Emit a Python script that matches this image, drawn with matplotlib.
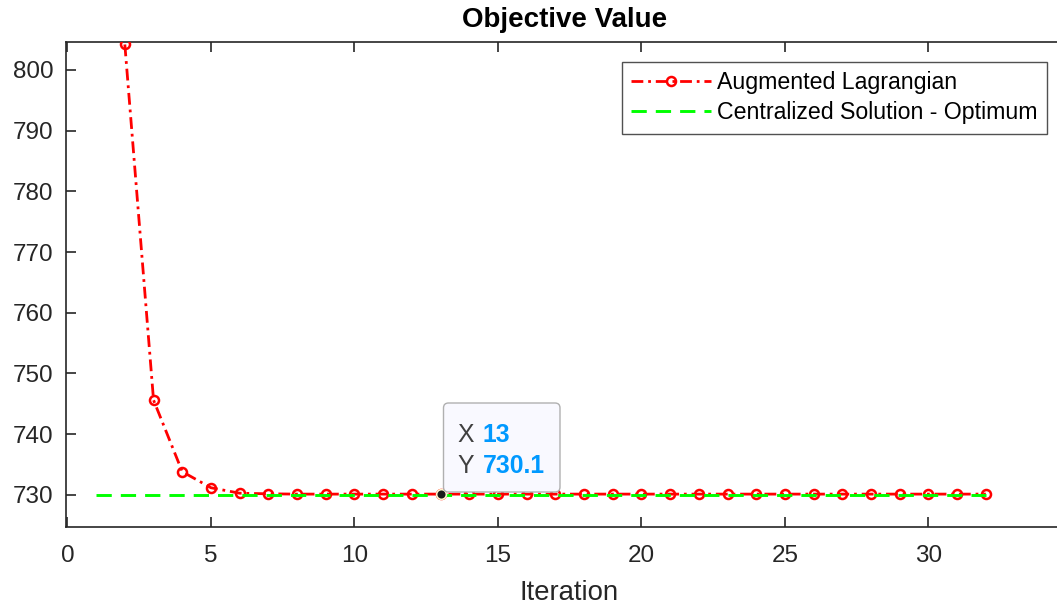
import matplotlib
matplotlib.use("Agg")
import matplotlib.pyplot as plt
from matplotlib.patches import FancyBboxPatch

# ---- data ----
iterations = list(range(2, 33))
objective = [804.2, 745.6, 733.8, 731.15, 730.25, 730.15] + [730.1] * 25
opt_x = [1, 32]
opt_y = [730.0, 730.0]
tip_x, tip_y = 13, 730.1
xticks = [0, 5, 10, 15, 20, 25, 30]
yticks = [730, 740, 750, 760, 770, 780, 790, 800]

plt.rcParams['font.family'] = ['Liberation Sans', 'DejaVu Sans']
plt.rcParams['lines.scale_dashes'] = False
dark = '#262626'

W, H = 1057, 606
fig = plt.figure(figsize=(W / 100, H / 100), dpi=100)
left = 66 / W
bottom = 1 - 527 / H
height = (527 - 41.7) / H
width = 35.05 * 28.7 / W
ax = fig.add_axes([left, bottom, width, height])

ax.plot(iterations, objective, color='#ff0000', lw=2.0, dashes=(8.5, 3.5, 2, 3.5),
        marker='o', ms=6.5, mfc='none', mec='#ff0000', mew=1.8,
        label='Augmented Lagrangian', zorder=3)
ax.plot(opt_x, opt_y, color='#00ff00', lw=2.1, dashes=(11, 6.5),
        label='Centralized Solution - Optimum', zorder=4)
ax.plot([tip_x], [tip_y], 'o', ms=7, mfc='#1a1a1a', mec='#fff5cc', mew=1.2, zorder=6)

ax.set_xlim(-0.05, 35)
ax.set_ylim(724.68, 804.66)
ax.set_xticks(xticks)
ax.set_yticks(yticks)
ax.tick_params(direction='in', length=7, width=1.2, colors=dark, labelsize=17.5,
               top=True, right=True, labelcolor=dark)
ax.tick_params(axis='x', pad=13)
ax.tick_params(axis='y', pad=9)
for s in ax.spines.values():
    s.set_color(dark)
    s.set_linewidth(1.2)

ax.set_xlabel('Iteration', fontsize=19.8, color=dark, labelpad=9)
fig.text(565 / W, 1 - 20 / H, 'Objective Value', fontsize=20, fontweight='bold',
         ha='center', va='center', color='black')

leg = ax.legend(loc='upper right', bbox_to_anchor=(1047 / W, 1 - 62 / H),
                bbox_transform=fig.transFigure, fontsize=16.7, frameon=True,
                fancybox=False, borderaxespad=0, handlelength=3.45,
                handletextpad=0.25, labelspacing=0.3, borderpad=0.4,
                numpoints=1)
leg.get_frame().set_edgecolor(dark)
leg.get_frame().set_linewidth(1.0)
for t in leg.get_texts():
    t.set_color('black')

# ---- data tip ----
tr = fig.dpi_scale_trans
bx0, by0 = 443.5 / 100, (H - 492) / 100
box = FancyBboxPatch((bx0, by0), 116.5 / 100, 89 / 100,
                     boxstyle='round,pad=0,rounding_size=0.05',
                     transform=tr, facecolor='#f9f9ff', edgecolor='#b0b0b0',
                     lw=1.0, zorder=10)
fig.add_artist(box)
fig.text(457 / 100, (H - 441.7) / 100, 'X', transform=tr, fontsize=17.8,
         color='#404040', va='baseline', ha='left', zorder=11)
fig.text(483 / 100, (H - 441.7) / 100, f'{tip_x}', transform=tr, fontsize=17.8,
         color='#0099ff', fontweight='bold', va='baseline', ha='left', zorder=11)
fig.text(457 / 100, (H - 472.7) / 100, 'Y', transform=tr, fontsize=17.8,
         color='#404040', va='baseline', ha='left', zorder=11)
fig.text(483 / 100, (H - 472.7) / 100, f'{tip_y}', transform=tr, fontsize=17.8,
         color='#0099ff', fontweight='bold', va='baseline', ha='left', zorder=11)

fig.savefig('out.png', dpi=100, facecolor='white')
